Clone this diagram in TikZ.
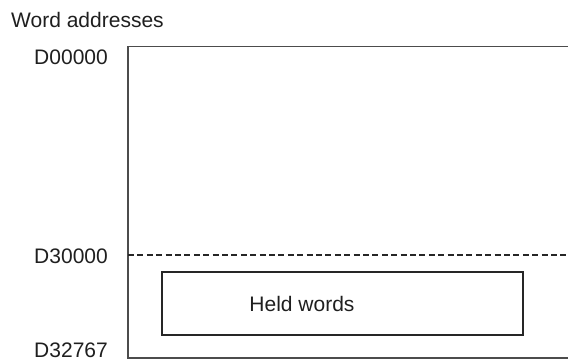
\documentclass[tikz,border=0pt]{standalone}
\usepackage{fontspec}
\setmainfont{Liberation Sans}
\begin{document}
\begin{tikzpicture}[x=1pt,y=-1pt,
  lbl/.style={font=\fontsize{21}{25}\selectfont, text=black!88, inner sep=0pt},
  addr/.style={lbl, anchor=east},
  frame/.style={draw=black!70, line width=1.4pt},
  held/.style={draw=black!85, line width=1.2pt},
  sep/.style={draw=black!85, line width=1.4pt, dash pattern=on 6pt off 3.4pt}]
\useasboundingbox (0,0) rectangle (568,361);
\coordinate (tl) at (128,46.7);
\coordinate (tr) at (568,46.7);
\coordinate (bl) at (128,358);
\coordinate (br) at (568,358);
\coordinate (dl) at (128,255);
\coordinate (dr) at (566,255);
\draw[frame] (tr) -- (tl) -- (bl) -- (br);
\draw[sep] (dl) -- (dr);
\node[held, minimum width=361pt, minimum height=63pt, inner sep=0pt] (hbox) at (342.5,303.5) {};
\node[lbl] (htext) at (302,303.5) {Held words};
\node[lbl, anchor=west] (title) at (11,20) {Word addresses};
\node[addr] (a0) at (108,57.5) {D00000};
\node[addr] (a1) at (108,256) {D30000};
\node[addr] (a2) at (108,350.5) {D32767};
\end{tikzpicture}
\end{document}
